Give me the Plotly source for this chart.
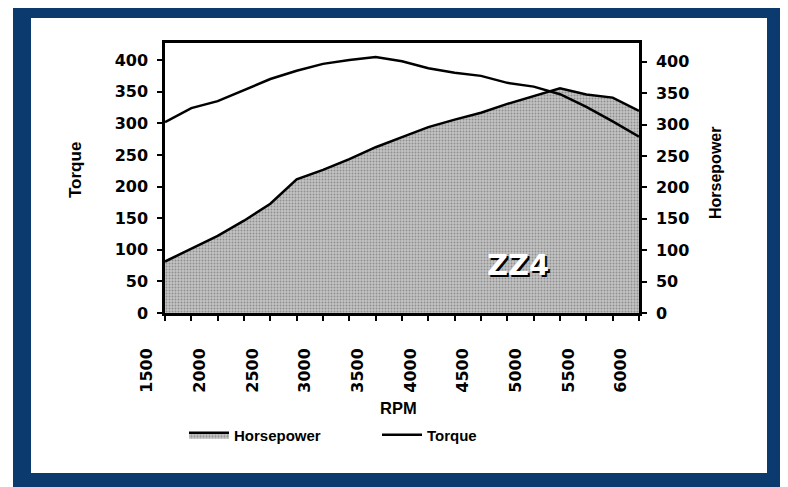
import plotly.graph_objects as go

rpm = [1500, 1750, 2000, 2250, 2500, 2750, 3000, 3250, 3500, 3750,
       4000, 4250, 4500, 4750, 5000, 5250, 5500, 5750, 6000]
torque = [302, 324, 335, 352, 370, 383, 394, 400, 405, 398,
          387, 380, 375, 364, 358, 346, 326, 303, 279]
horsepower = [82, 103, 123, 147, 174, 213, 228, 245, 264, 280,
              296, 308, 319, 333, 346, 358, 348, 343, 322]

W, H = 788, 487
OFF = 8  # page body margin offset of the plot div
X0, X1, Y0, Y1 = 165, 639, 43, 313  # plot area in screen pixels
L, R = X0 - OFF, W - (X1 - OFF)
T, B = Y0 - OFF, H - (Y1 - OFF)
PW, PH = X1 - X0, Y1 - Y0

def px(x):
    return (x - X0) / PW

def py(y):
    return (Y1 - y) / PH

BLUE = "#0b3a6e"
FONT = "DejaVu Sans"
LAB = "Liberation Sans"

fig = go.Figure()

fig.add_trace(go.Scatter(
    x=rpm, y=horsepower, name="Horsepower", mode="lines",
    yaxis="y", fill="tozeroy",
    line=dict(color="black", width=2.5),
    fillcolor="#bdbdbd",
    fillpattern=dict(shape=".", fgcolor="#5a5a5a", bgcolor="#c4c4c4", size=3, solidity=0.35),
    legend="legend",
))
fig.add_trace(go.Scatter(
    x=rpm, y=torque, name="Torque", mode="lines",
    yaxis="y2",
    line=dict(color="black", width=2.5),
    legend="legend2",
))

tickfont = dict(family=FONT, size=16, color="black", weight="bold")
common_line = dict(showline=True, linecolor="black", linewidth=2.5,
                   showgrid=False, zeroline=False)
legfont = dict(family=LAB, size=15, color="black", weight="bold")

def label(text, x, y, size, angle=0, family=LAB, color="black", **extra):
    return dict(text=text, xref="paper", yref="paper", x=px(x), y=py(y),
                xanchor="center", yanchor="middle", textangle=angle,
                showarrow=False,
                font=dict(family=family, size=size, color=color, weight="bold", **extra))

fig.update_layout(
    width=W, height=H,
    margin=dict(l=L, r=R, t=T, b=B, pad=0),
    paper_bgcolor="white",
    plot_bgcolor="rgba(0,0,0,0)",
    xaxis=dict(range=[1500, 6000], tick0=1500, dtick=500,
               ticks="outside", ticklen=5, tickwidth=2, tickcolor="black",
               minor=dict(dtick=250, tick0=1500, ticks="outside", ticklen=5,
                          tickwidth=2, tickcolor="black"),
               tickangle=-90, tickfont=tickfont,
               ticklabelshift=-18, ticklabelstandoff=21,
               mirror=True, **common_line),
    xaxis3=dict(range=[1500, 6000], overlaying="x", anchor="y", side="bottom",
                tick0=1500, dtick=250, ticks="inside", ticklen=5, tickwidth=2,
                tickcolor="black", showticklabels=False, showline=False,
                showgrid=False, zeroline=False),
    yaxis=dict(range=[0, 430], side="right", anchor="x", dtick=50,
               ticks="outside", ticklen=5, tickwidth=2, tickcolor="black",
               tickfont=tickfont, ticklabelstandoff=6, **common_line),
    yaxis2=dict(range=[0, 427], side="left", anchor="x", overlaying="y", dtick=50,
                ticks="outside", ticklen=5, tickwidth=2, tickcolor="black",
                tickfont=tickfont, ticklabelstandoff=6, **common_line),
    yaxis3=dict(range=[0, 427], side="left", anchor="x", overlaying="y", dtick=50,
                ticks="inside", ticklen=6, tickwidth=2, tickcolor="black",
                showticklabels=False, showline=False, showgrid=False, zeroline=False),
    yaxis4=dict(range=[0, 430], side="right", anchor="x", overlaying="y", dtick=50,
                ticks="inside", ticklen=6, tickwidth=2, tickcolor="black",
                showticklabels=False, showline=False, showgrid=False, zeroline=False),
    legend=dict(x=px(184), y=py(435), xanchor="left", yanchor="middle",
                orientation="h", bgcolor="rgba(0,0,0,0)", itemwidth=40,
                font=legfont),
    legend2=dict(x=px(377), y=py(435), xanchor="left", yanchor="middle",
                 orientation="h", bgcolor="rgba(0,0,0,0)", itemwidth=40,
                 font=legfont),
    showlegend=True,
    shapes=[
        dict(type="rect", xref="paper", yref="paper", layer="below",
             x0=px(13), x1=px(782), y0=py(3), y1=py(495),
             fillcolor=BLUE, line=dict(width=0)),
        dict(type="rect", xref="paper", yref="paper", layer="below",
             x0=px(31), x1=px(767), y0=py(18), y1=py(473),
             fillcolor="white", line=dict(width=0)),
    ],
    annotations=[
        label("Torque", 75, 170, 17, angle=-90),
        label("Horsepower", 715, 173, 16, angle=-90),
        label("RPM", 398, 408, 16.5),
        label("ZZ4", 518, 265, 29, family=FONT, color="white",
              shadow="2px 2px 0px black"),
    ],
)

fig.write_html("out.html")
